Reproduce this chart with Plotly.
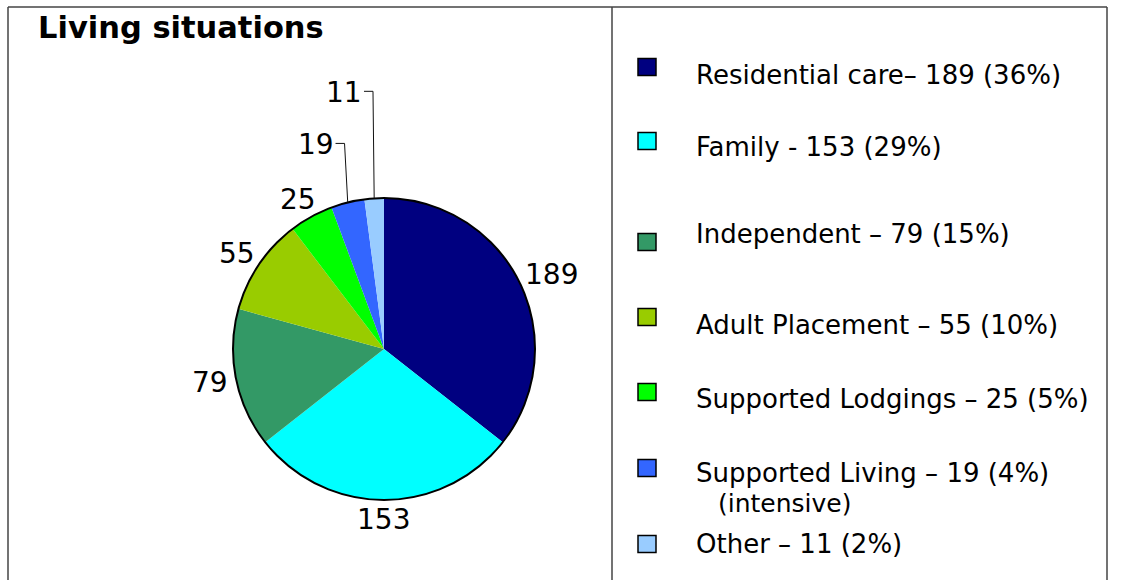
import math
import plotly.graph_objects as go

# ---------------- data ----------------
categories = ["Residential care", "Family", "Independent", "Adult Placement",
              "Supported Lodgings", "Supported Living", "Other"]
values = [189, 153, 79, 55, 25, 19, 11]
colors = ["#000080", "#00FFFF", "#339966", "#99CC00", "#00FF00", "#3366FF", "#99CCFF"]
legend_labels = ["Residential care\u2013 189 (36%)",
                 "Family - 153 (29%)",
                 "Independent \u2013 79 (15%)",
                 "Adult Placement \u2013 55 (10%)",
                 "Supported Lodgings \u2013 25 (5%)",
                 "Supported Living \u2013 19 (4%)",
                 "Other \u2013 11 (2%)"]
legend_sub = {5: "(intensive)"}
title_text = "Living situations"

# ---------------- layout constants (pixels) ----------------
W, H = 1121, 580
CX, CY, R = 384, 349, 151
FONT = "DejaVu Sans"
LABEL_FS = 28
LEG_FS = 26
SUB_FS = 25
GAP = 9
# labels moved away from their slice, with leader lines (pixel offsets from slice edge)
leader_offsets = {5: (-32, -58), 6: (-30, -106)}
legend_box_y = [67, 141, 242, 317, 392, 468, 544]
legend_text_y = [75, 147, 234, 325, 399, 473, 544]
legend_sub_dy = 30
LEG_BOX_X, LEG_BOX_W, LEG_BOX_H = 647, 18, 17
LEG_TEXT_X = 694


def px(x, y):
    return x / W, 1 - y / H


fig = go.Figure()
fig.add_trace(go.Pie(
    labels=categories, values=values, sort=False, direction="clockwise",
    rotation=0, marker=dict(colors=colors, line=dict(width=0)),
    textinfo="none", hoverinfo="label+value+percent", showlegend=False,
    domain=dict(x=[(CX - R) / W, (CX + R) / W], y=[1 - (CY + R) / H, 1 - (CY - R) / H]),
))
# outer outline of the pie
fig.add_trace(go.Pie(
    labels=["outline"], values=[1], sort=False,
    marker=dict(colors=["rgba(0,0,0,0)"], line=dict(color="black", width=2)),
    textinfo="none", hoverinfo="skip", showlegend=False,
    domain=dict(x=[(CX - R) / W, (CX + R) / W], y=[1 - (CY + R) / H, 1 - (CY - R) / H]),
))

annotations = []
shapes = []

total = sum(values)
cum = 0
for i, v in enumerate(values):
    mid = (cum + v / 2) / total
    cum += v
    th = 2 * math.pi * mid
    ux, uy = math.sin(th), -math.cos(th)
    ex, ey = CX + ux * R, CY + uy * R
    txt = str(v)
    hw = len(txt) * 0.636 * LABEL_FS / 2
    hh = 0.729 * LABEL_FS / 2
    if i in leader_offsets:
        ox, oy = leader_offsets[i]
        lx, ly = ex + ox, ey + oy
        x0 = lx + hw + 2
        path = "M {} {} L {} {} L {} {}".format(
            *px(x0, ly - 1), *px(x0 + 9, ly - 1), *px(ex, ey))
        shapes.append(dict(type="path", xref="paper", yref="paper", path=path,
                           line=dict(color="#111111", width=1)))
    else:
        lx = ex + ux * GAP + ux * hw
        ly = ey + uy * GAP + uy * hh
    x, y = px(lx, ly)
    annotations.append(dict(x=x, y=y, xref="paper", yref="paper", text=txt,
                            showarrow=False, xanchor="center", yanchor="middle",
                            font=dict(family=FONT, size=LABEL_FS, color="black")))

# title
tx, ty = px(36, 27)
annotations.append(dict(x=tx, y=ty, xref="paper", yref="paper",
                        text="<b>" + title_text + "</b>", showarrow=False,
                        xanchor="left", yanchor="middle",
                        font=dict(family=FONT, size=30.5, color="black")))

# legend
for i, lab in enumerate(legend_labels):
    bx0, by0 = px(LEG_BOX_X - LEG_BOX_W / 2, legend_box_y[i] - LEG_BOX_H / 2)
    bx1, by1 = px(LEG_BOX_X + LEG_BOX_W / 2, legend_box_y[i] + LEG_BOX_H / 2)
    shapes.append(dict(type="rect", xref="paper", yref="paper",
                       x0=bx0, x1=bx1, y0=by0, y1=by1,
                       fillcolor=colors[i], line=dict(color="black", width=1.5)))
    x, y = px(LEG_TEXT_X, legend_text_y[i])
    annotations.append(dict(x=x, y=y, xref="paper", yref="paper", text=lab,
                            showarrow=False, xanchor="left", yanchor="middle",
                            font=dict(family=FONT, size=LEG_FS, color="black")))
    if i in legend_sub:
        x, y = px(LEG_TEXT_X + 22, legend_text_y[i] + legend_sub_dy)
        annotations.append(dict(x=x, y=y, xref="paper", yref="paper", text=legend_sub[i],
                                showarrow=False, xanchor="left", yanchor="middle",
                                font=dict(family=FONT, size=SUB_FS, color="black")))

# frame lines
FRAME = dict(color="#444444", width=1.5)
for (x0, y0, x1, y1) in [(8, 7, 1107, 7), (8, 7, 8, 580), (612, 7, 612, 580), (1107, 7, 1107, 580)]:
    a0, b0 = px(x0, y0)
    a1, b1 = px(x1, y1)
    shapes.append(dict(type="line", xref="paper", yref="paper",
                       x0=a0, y0=b0, x1=a1, y1=b1, line=FRAME))

fig.update_layout(
    width=W, height=H, margin=dict(l=0, r=0, t=0, b=0),
    paper_bgcolor="white", plot_bgcolor="white",
    annotations=annotations, shapes=shapes, showlegend=False,
)
fig.write_html("out.html", config={"displayModeBar": False},
               post_script="document.body.style.margin='0';document.body.style.overflow='hidden';")
